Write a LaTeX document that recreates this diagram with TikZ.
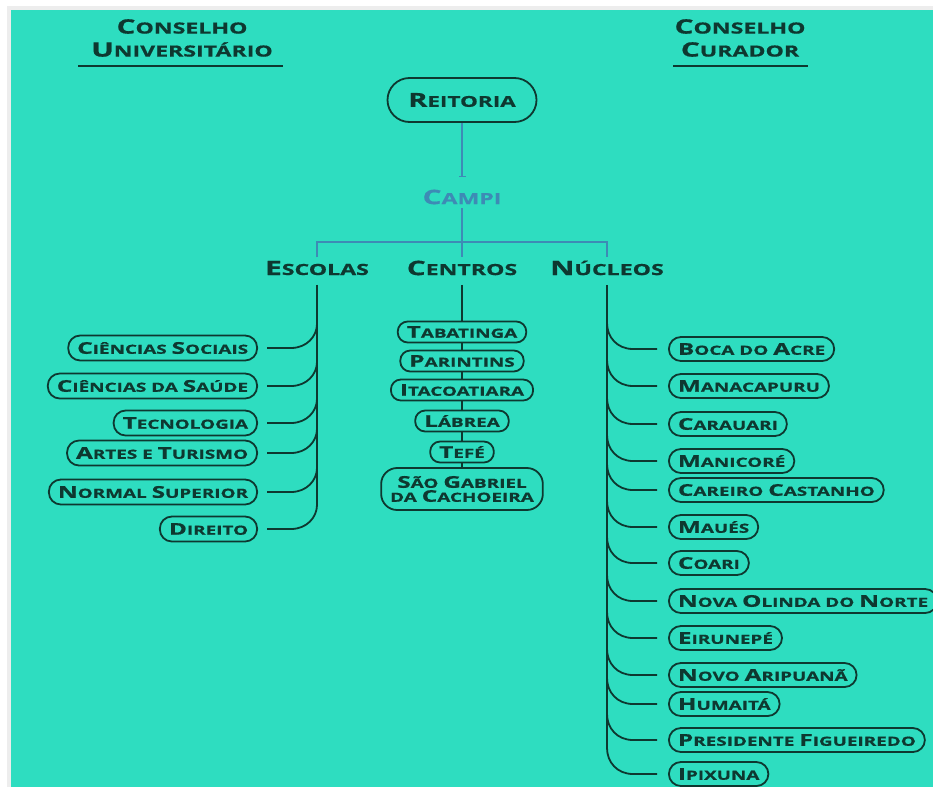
\documentclass[tikz,border=0pt]{standalone}
\usepackage{fontspec}
\usepackage{graphicx}
\setmainfont{Open Sans}[FakeStretch=1.5, BoldFeatures={FakeBold=0.7}]
\usetikzlibrary{arrows.meta}
\definecolor{bg}{RGB}{46,221,192}
\definecolor{dk}{RGB}{14,56,48}
\definecolor{bl}{RGB}{61,139,181}
\newcommand\K[1]{\scalebox{1.29}{#1}}
\newcommand\fbx{\fontsize{12.6}{14}\selectfont\bfseries}
\newcommand\fhd{\fontsize{15.4}{23}\selectfont\bfseries}
\newcommand\frt{\fontsize{15}{16}\selectfont\bfseries}
\begin{document}
\begin{tikzpicture}[x=1pt,y=-1pt,
  box/.style={draw=dk, line width=1.8pt, fill=bg, rounded corners=12pt, minimum height=24pt, inner xsep=9pt, inner ysep=2pt, text=dk, font=\fbx},
  lbox/.style={box, minimum height=25pt},
  cbox/.style={box, minimum height=21pt, rounded corners=10pt},
  dline/.style={draw=dk, line width=1.8pt},
  bline/.style={draw=bl, line width=1.8pt},
  head/.style={font=\fhd, text=dk, align=center}]
\useasboundingbox (0,0) rectangle (933,787);
\fill[white] (0,0) rectangle (933,787);
\fill[black!7] (7,6) rectangle (933,787);
\fill[bg] (11,10) rectangle (933,787);

% headers
\node[head] (cu) at (182,38) {{\K C}ONSELHO\\{\K U}NIVERSITÁRIO};
\node[head] (cc0) at (740,38) {{\K C}ONSELHO\\{\K C}URADOR};
\draw[dk, line width=2.5pt] (78,66) -- (283,66);
\draw[dk, line width=2.5pt] (673,66) -- (808,66);

% top
\node[box, font=\frt, minimum height=44pt, minimum width=149pt, rounded corners=22pt] (re) at (462,100) {{\K R}EITORIA};
\node[font=\fhd, text=bl] (ca) at (462,197) {{\K C}AMPI};
\coordinate (t1) at (462,177);
\draw[bline, -{Bar[width=7pt,line width=1.5pt]}] (re.south) -- (t1);
\node[head] (es) at (317,268) {{\K E}SCOLAS};
\node[head] (ce) at (462,268) {{\K C}ENTROS};
\node[head] (nu) at (607,268) {{\K N}ÚCLEOS};
\coordinate (br) at (462,242);
\draw[bline] (ca.south) -- (br);
\draw[bline] (es.north) -- (es.north |- br) -- (nu.north |- br) -- (nu.north);
\draw[bline] (br) -- (ce.north);

% spines
\coordinate (esb) at (317,505);
\coordinate (nub) at (607,748);
\draw[dline] ([yshift=-6pt]es.south) -- (esb);
\draw[dline] ([yshift=-6pt]nu.south) -- (nub);

% escolas
\foreach \n/\y/\t in {
  cs/348/{{\K C}IÊNCIAS {\K S}OCIAIS},
  sa/386/{{\K C}IÊNCIAS DA {\K S}AÚDE},
  te/423/{{\K T}ECNOLOGIA},
  at/453/{{\K A}RTES E {\K T}URISMO},
  ns/492/{{\K N}ORMAL {\K S}UPERIOR},
  di/529/{{\K D}IREITO}} {
  \node[lbox, anchor=east] (\n) at (258,\y) {\t};
  \draw[dline] ([xshift=9pt]\n.east) -- ++(24,0) .. controls +(16,0) and +(0,12) .. (317,\y-24);
}

% centros
\node[cbox, align=center, minimum height=42pt, rounded corners=16pt] (sg) at (462,489) {{\K S}ÃO {\K G}ABRIEL\\DA {\K C}ACHOEIRA};
\draw[dline] ([yshift=-6pt]ce.south) -- (sg.north);
\foreach \n/\y/\t in {
  tb/332/{{\K T}ABATINGA},
  pa/361/{{\K P}ARINTINS},
  it/390/{{\K I}TACOATIARA},
  lb/421/{{\K L}ÁBREA},
  tf/452/{{\K T}EFÉ}} {
  \node[cbox] (\n) at (462,\y) {\t};
}

% nucleos
\foreach \n/\y/\t in {
  bo/349/{{\K B}OCA DO {\K A}CRE},
  ma/386/{{\K M}ANACAPURU},
  cr/424/{{\K C}ARAUARI},
  mn/461/{{\K M}ANICORÉ},
  ca2/490/{{\K C}AREIRO {\K C}ASTANHO},
  mu/527/{{\K M}AUÉS},
  co/563/{{\K C}OARI},
  no/601/{{\K N}OVA {\K O}LINDA DO {\K N}ORTE},
  ei/638/{{\K E}IRUNEPÉ},
  na/675/{{\K N}OVO {\K A}RIPUANÃ},
  hu/704/{{\K H}UMAITÁ},
  pf/740/{{\K P}RESIDENTE {\K F}IGUEIREDO},
  ip/774/{{\K I}PIXUNA}} {
  \node[box, anchor=west] (\n) at (668,\y) {\t};
  \draw[dline] ([xshift=-11pt]\n.west) -- ++(-24,0) .. controls +(-16,0) and +(0,14) .. (607,\y-26);
}
\end{tikzpicture}
\end{document}
